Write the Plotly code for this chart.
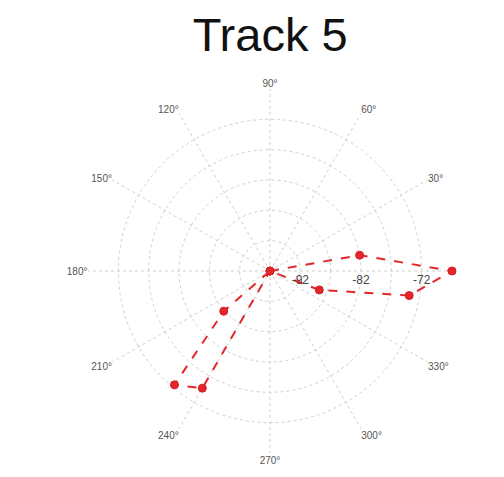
import plotly.graph_objects as go

# Track 5 signal path: bearing (deg) and level (dB)
theta_deg = [0, 10, 0, 350, 339, 0, 221, 230, 240, 0]
level_db = [-97, -82, -67, -73.7, -88.3, -97, -86.9, -72.5, -74.7, -97]

# radial grid rings, labelled every other ring
ring_vals = [-92, -87, -82, -77, -72, -67]
ring_text = ["-92", "", "-82", "", "-72", ""]
r_range = [-97, -67]

# angular spokes every 30 deg; the 0 deg label falls outside the page
angle_ticks = list(range(0, 360, 30))
angle_text = ["" if a == 0 else f"{a}°" for a in angle_ticks]

fig = go.Figure()
fig.add_trace(go.Scatterpolar(
    r=level_db,
    theta=theta_deg,
    mode="lines+markers",
    line=dict(color="#e3262b", width=2, dash="dash"),
    marker=dict(color="#e3262b", size=8, symbol="circle",
                line=dict(color="#d21f24", width=1)),
    showlegend=False,
))

fig.update_layout(
    width=504, height=477,
    margin=dict(l=0, r=0, t=0, b=0),
    paper_bgcolor="white",
    title=dict(text="Track 5", x=0.536, xanchor="center", y=0.928, yanchor="middle",
               font=dict(family="Liberation Sans, Arial", size=47, color="#111")),
    polar=dict(
        domain=dict(x=[0.1746, 0.8968], y=[0.0503, 0.8134]),
        bgcolor="white",
        radialaxis=dict(
            range=r_range,
            tickvals=ring_vals,
            ticktext=ring_text,
            angle=0,
            tickangle=0,
            showline=False,
            ticks="",
            gridcolor="#cfcfcf",
            griddash="dot",
            gridwidth=1,
            tickfont=dict(family="Liberation Sans, Arial", size=12, color="#444"),
        ),
        angularaxis=dict(
            direction="counterclockwise",
            rotation=0,
            tickvals=angle_ticks,
            ticktext=angle_text,
            ticks="",
            showline=False,
            gridcolor="#cfcfcf",
            griddash="dot",
            gridwidth=1,
            tickfont=dict(family="Liberation Sans, Arial", size=10, color="#555"),
        ),
    ),
)

fig.write_html("out.html")
